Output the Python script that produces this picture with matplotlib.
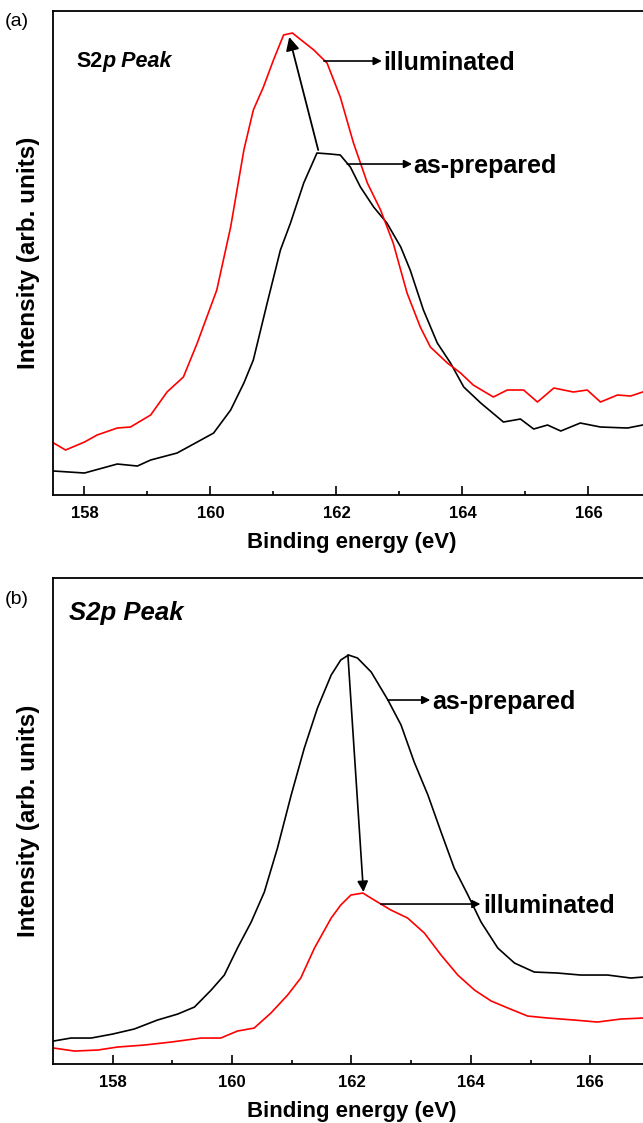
import numpy as np
import matplotlib
matplotlib.use('Agg')
import matplotlib.pyplot as plt

plt.rcParams['font.family'] = ['Liberation Sans', 'DejaVu Sans']

a_prep_x = [157.51, 158.0, 158.52, 158.84, 159.05, 159.47, 159.79, 160.05, 160.32, 160.53,
            160.68, 160.9, 161.11, 161.27, 161.48, 161.69, 161.9, 162.06, 162.22, 162.38,
            162.59, 162.8, 163.02, 163.17, 163.38, 163.6, 163.81, 164.02, 164.29, 164.65,
            164.92, 165.13, 165.35, 165.56, 165.87, 166.19, 166.62, 166.86]
a_prep_y = [24, 22, 31, 29, 35, 42, 53, 62, 85, 112,
            135, 192, 245, 272, 312, 342, 341, 340, 328, 308,
            288, 272, 248, 225, 185, 152, 132, 108, 92, 73,
            76, 66, 70, 64, 72, 68, 67, 70]
a_ill_x = [157.51, 157.7, 158.0, 158.2, 158.52, 158.73, 159.05, 159.31, 159.57, 159.79,
           160.1, 160.32, 160.53, 160.68, 160.84, 161.0, 161.16, 161.3, 161.48, 161.64,
           161.85, 162.06, 162.27, 162.49, 162.7, 162.9, 163.12, 163.33, 163.49, 163.76,
           163.97, 164.17, 164.49, 164.71, 164.97, 165.19, 165.45, 165.76, 165.98, 166.19,
           166.46, 166.67, 166.86]
a_ill_y = [52, 45, 53, 60, 67, 68, 80, 103, 118, 152,
           205, 268, 345, 385, 408, 435, 460, 462, 453, 445,
           432, 398, 352, 312, 285, 252, 202, 168, 148, 132,
           122, 110, 98, 105, 105, 93, 107, 103, 105, 93,
           100, 99, 103]

# (b)
b_prep_x = [157.01, 157.3, 157.64, 158.0, 158.36, 158.75, 159.09, 159.37, 159.65, 159.87,
            160.09, 160.32, 160.54, 160.76, 160.99, 161.21, 161.43, 161.66, 161.82, 161.95,
            162.1, 162.33, 162.61, 162.83, 163.05, 163.28, 163.5, 163.72, 163.95, 164.17,
            164.45, 164.73, 165.06, 165.45, 165.84, 166.29, 166.68, 166.88]
b_prep_y = [23, 26, 26, 30, 35, 44, 50, 57, 74, 89,
            116, 142, 172, 216, 269, 316, 356, 389, 404, 409,
            406, 392, 364, 339, 302, 269, 232, 196, 169, 142,
            116, 101, 92, 91, 89, 89, 86, 87]
b_ill_x = [157.01, 157.36, 157.75, 158.08, 158.53, 158.98, 159.48, 159.81, 160.09, 160.37,
           160.65, 160.93, 161.15, 161.38, 161.66, 161.82, 161.99, 162.19, 162.38, 162.66,
           162.94, 163.22, 163.5, 163.78, 164.06, 164.34, 164.62, 164.95, 165.29, 165.73,
           166.12, 166.51, 166.88]
b_ill_y = [16, 13, 14, 17, 19, 22, 26, 26, 33, 36,
           51, 69, 86, 116, 146, 159, 169, 171, 164, 154,
           146, 131, 109, 89, 74, 63, 56, 48, 46, 44,
           42, 45, 46]

fig = plt.figure(figsize=(6.43, 11.23), dpi=100)
ax_a = fig.add_axes([0.0824, 0.5592, 0.9308, 0.4310])
ax_b = fig.add_axes([0.0824, 0.0525, 0.9285, 0.4328])


def style(ax, xlim, ylim):
    ax.set_xlim(*xlim)
    ax.set_ylim(*ylim)
    ax.set_xticks([158, 160, 162, 164, 166])
    ax.set_xticks([159, 161, 163, 165], minor=True)
    ax.set_yticks([])
    ax.tick_params(axis='x', which='major', direction='in', length=6.5, width=1.2,
                   labelsize=12, pad=8)
    ax.tick_params(axis='x', which='minor', direction='in', length=3, width=1.2)
    for lab in ax.get_xticklabels():
        lab.set_fontweight('bold')
    for s in ax.spines.values():
        s.set_linewidth(1.3)
    ax.set_xlabel('Binding energy (eV)', fontsize=16, fontweight='bold', labelpad=8)
    ax.set_ylabel('Intensity (arb. units)', fontsize=17.5, fontweight='bold', labelpad=9)


style(ax_a, (157.5, 167), (0, 484))
style(ax_b, (157, 167), (0, 486))

ax_a.plot(a_prep_x, a_prep_y, color='black', lw=1.2)
ax_a.plot(a_ill_x, a_ill_y, color='#ff0000', lw=1.2)
ax_b.plot(b_prep_x, b_prep_y, color='black', lw=1.2)
ax_b.plot(b_ill_x, b_ill_y, color='#ff0000', lw=1.2)

small = dict(arrowstyle='-|>', color='black', lw=1.2, mutation_scale=12, shrinkA=0, shrinkB=0)

# (a) annotations
ax_a.annotate('', xy=(161.25, 458), xytext=(161.71, 345),
              arrowprops=dict(arrowstyle='-|>', color='black', lw=1.3, mutation_scale=20,
                              shrinkA=0, shrinkB=0))
ax_a.annotate('', xy=(162.72, 434), xytext=(161.8, 434), arrowprops=small)
ax_a.text(162.74, 432, 'illuminated', fontsize=18, fontweight='bold', va='center', ha='left')
ax_a.annotate('', xy=(163.2, 331), xytext=(162.17, 331), arrowprops=small)
ax_a.text(163.22, 329, 'as-prepared', fontsize=18, fontweight='bold', va='center', ha='left')
t1 = ax_a.text(157.87, 434, 'S2', fontsize=15.5, fontweight='bold', va='center', ha='left')
ax_a.annotate('p Peak', xy=(1, 0), xycoords=t1, va='bottom', ha='left',
              fontsize=15.5, fontweight='bold', style='italic')

# (b) annotations
ax_b.annotate('', xy=(162.2, 172), xytext=(161.94, 409),
              arrowprops=dict(arrowstyle='-|>', color='black', lw=1.2, mutation_scale=16,
                              shrinkA=0, shrinkB=0))
ax_b.annotate('', xy=(163.32, 364), xytext=(162.61, 364), arrowprops=small)
ax_b.text(163.36, 362, 'as-prepared', fontsize=18, fontweight='bold', va='center', ha='left')
ax_b.annotate('', xy=(164.16, 160), xytext=(162.49, 160), arrowprops=small)
ax_b.text(164.2, 158, 'illuminated', fontsize=18, fontweight='bold', va='center', ha='left')
ax_b.text(157.26, 451, 'S2p Peak', fontsize=18.5, fontweight='bold', style='italic',
          va='center', ha='left')

fig.text(17 / 643, 1 - 22 / 1123, '(a)', fontsize=14, ha='center', va='center')
fig.text(17 / 643, 1 - 600 / 1123, '(b)', fontsize=14, ha='center', va='center')

fig.savefig('out.png', dpi=100)
